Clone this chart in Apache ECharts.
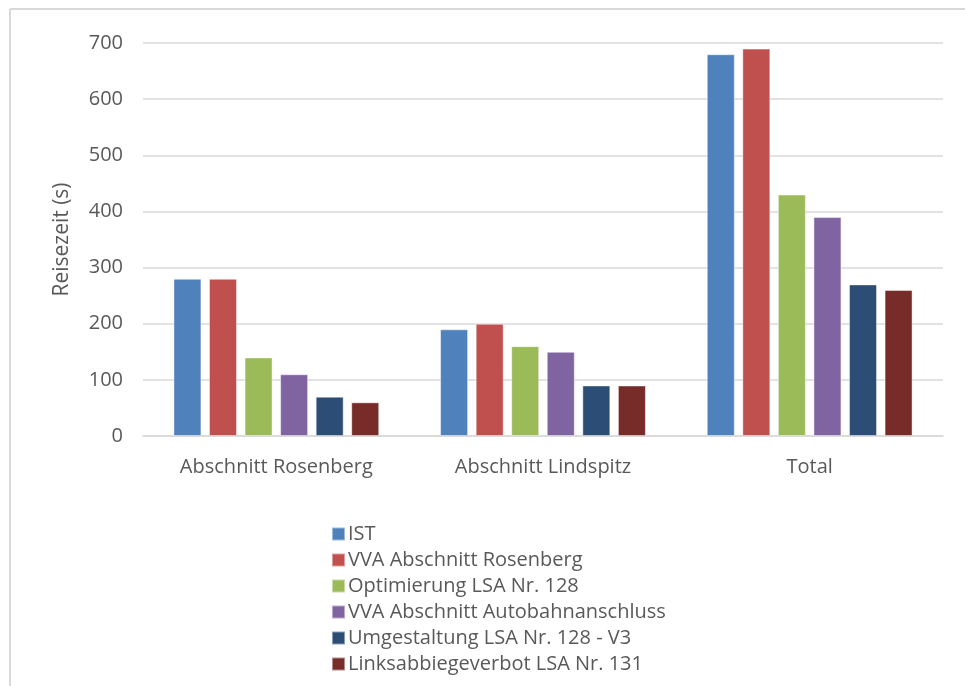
<!DOCTYPE html>
<html>
<head>
<meta charset="utf-8">
<script src="https://cdn.jsdelivr.net/npm/echarts@6/dist/echarts.min.js"></script>
<style>
  html, body { margin: 0; padding: 0; background: #fff; }
  #chart { width: 965px; height: 686px; }
</style>
</head>
<body>
<div id="chart"></div>
<script>
const categories = ['Abschnitt Rosenberg', 'Abschnitt Lindspitz', 'Total']
const seriesNames = [
  'IST',
  'VVA Abschnitt Rosenberg',
  'Optimierung LSA Nr. 128',
  'VVA Abschnitt Autobahnanschluss',
  'Umgestaltung LSA Nr. 128 - V3',
  'Linksabbiegeverbot LSA Nr. 131'
]
const ist = [280, 190, 680]
const vvaRosenberg = [280, 200, 690]
const optimierung128 = [140, 160, 430]
const vvaAutobahn = [110, 150, 390]
const umgestaltung128 = [70, 90, 270]
const linksabbiege131 = [60, 90, 260]
const colors = ['#4F81BD', '#C0504D', '#9BBB59', '#8064A2', '#2C4D75', '#772C2A']

const values = [ist, vvaRosenberg, optimierung128, vvaAutobahn, umgestaltung128, linksabbiege131]
const font = '"Open Sans", "Noto Sans", sans-serif'

const chart = echarts.init(document.getElementById('chart'))

chart.setOption({
  animation: false,
  textStyle: { fontFamily: font, color: '#595959' },
  graphic: [
    { type: 'line', shape: { x1: 10, y1: 9, x2: 965, y2: 9 }, style: { stroke: '#d9d9d9', lineWidth: 2 } },
    { type: 'line', shape: { x1: 10, y1: 9, x2: 10, y2: 686 }, style: { stroke: '#d9d9d9', lineWidth: 2 } }
  ],
  grid: { left: 143, right: 22, top: 43, bottom: 250 },
  legend: {
    orient: 'vertical',
    left: 326,
    top: 519,
    itemWidth: 13,
    itemHeight: 13,
    itemGap: 6,
    icon: 'rect',
    textStyle: { fontFamily: font, fontSize: 20, color: '#595959', padding: [0, 0, 0, -2] },
    data: seriesNames
  },
  xAxis: {
    type: 'category',
    data: categories,
    axisLine: { lineStyle: { color: '#d9d9d9', width: 1.5 } },
    axisTick: { show: false },
    axisLabel: { fontFamily: font, fontSize: 20, color: '#595959', margin: 21 }
  },
  yAxis: {
    type: 'value',
    min: 0,
    max: 700,
    interval: 100,
    name: 'Reisezeit (s)',
    nameLocation: 'middle',
    nameGap: 70,
    nameTextStyle: { fontFamily: font, fontSize: 21, color: '#595959' },
    axisLine: { show: false },
    axisTick: { show: false },
    axisLabel: { fontFamily: font, fontSize: 20, color: '#595959', margin: 20 },
    splitLine: { lineStyle: { color: '#d9d9d9', width: 1.5 } }
  },
  series: seriesNames.map((name, i) => ({
    name,
    type: 'bar',
    data: values[i],
    barWidth: 28,
    barGap: '27%',
    itemStyle: { color: colors[i], borderColor: 'rgba(255,255,255,0.45)', borderWidth: 1 }
  }))
})
</script>
</body>
</html>
